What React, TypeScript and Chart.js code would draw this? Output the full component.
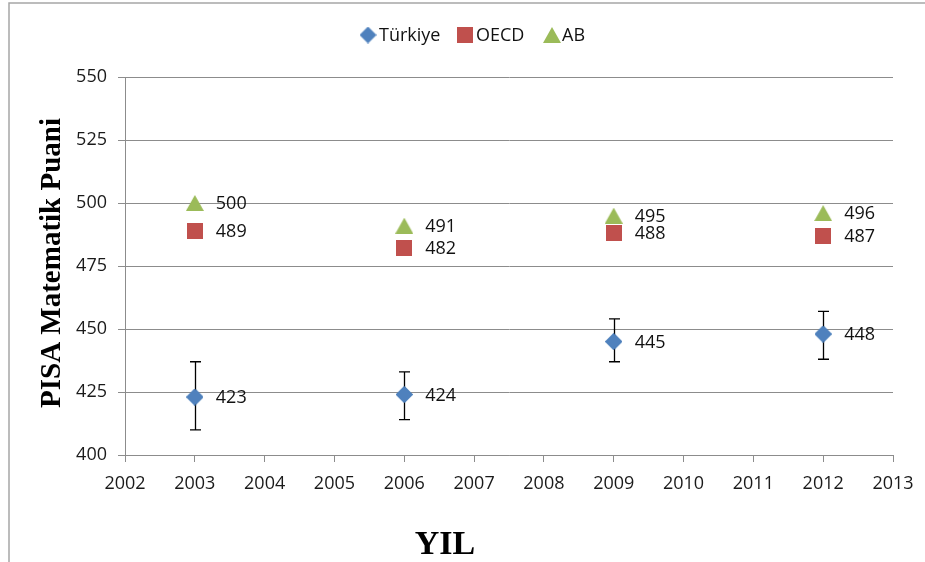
import React, { useEffect, useRef } from "react";
import { Chart, registerables } from "chart.js";

Chart.register(...registerables);

// ---- data ----
const years = [2003, 2006, 2009, 2012];
const turkiye = [423, 424, 445, 448];
const turkiyeLow = [410, 414, 437, 438];
const turkiyeHigh = [437, 433, 454, 457];
const oecd = [489, 482, 488, 487];
const ab = [500, 491, 495, 496];
const seriesNames = ["Türkiye", "OECD", "AB"];
const xMin = 2002;
const xMax = 2013;
const yMin = 400;
const yMax = 550;
const yStep = 25;
const yTitle = "PISA Matematik Puani";
const xTitle = "YIL";

const BLUE = "#4F81BD";
const RED = "#C0504D";
const GREEN = "#9BBB59";
const GRID = "#8c8c8c";
const FONT = '"Open Sans", "DejaVu Sans", sans-serif';

function makeMarker(kind: string, color: string): HTMLCanvasElement {
  const c = document.createElement("canvas");
  const ctx = c.getContext("2d")!;
  if (kind === "diamond") {
    c.width = 17; c.height = 17;
    ctx.fillStyle = color;
    ctx.beginPath();
    ctx.moveTo(8.5, 0); ctx.lineTo(17, 8.5); ctx.lineTo(8.5, 17); ctx.lineTo(0, 8.5);
    ctx.closePath(); ctx.fill();
  } else if (kind === "square") {
    c.width = 16; c.height = 16;
    ctx.fillStyle = color;
    ctx.fillRect(0, 0, 16, 16);
  } else {
    c.width = 18; c.height = 16;
    ctx.fillStyle = color;
    ctx.beginPath();
    ctx.moveTo(9, 0); ctx.lineTo(18, 16); ctx.lineTo(0, 16);
    ctx.closePath(); ctx.fill();
  }
  return c;
}

export default function App() {
  const ref = useRef<HTMLCanvasElement>(null);

  useEffect(() => {
    let chart: Chart | null = null;
    let cancelled = false;
    const markers = [
      makeMarker("diamond", BLUE),
      makeMarker("square", RED),
      makeMarker("triangle", GREEN),
    ];

    const overlay = {
      id: "overlay",
      beforeDraw(c: any) {
        const ctx = c.ctx;
        ctx.save();
        ctx.fillStyle = "#fff";
        ctx.fillRect(0, 0, c.width, c.height);
        // outer border
        ctx.strokeStyle = "#a6a6a6";
        ctx.lineWidth = 1.5;
        ctx.beginPath();
        ctx.moveTo(9, 562);
        ctx.lineTo(9, 3);
        ctx.lineTo(925, 3);
        ctx.stroke();
        ctx.restore();
      },
      afterDatasetsDraw(c: any) {
        const ctx = c.ctx;
        const xs = c.scales.x;
        const ys = c.scales.y;
        ctx.save();
        // error bars
        ctx.strokeStyle = "#000";
        ctx.lineWidth = 1.3;
        years.forEach((yr, i) => {
          const px = Math.round(xs.getPixelForValue(yr)) + 0.5;
          const top = ys.getPixelForValue(turkiyeHigh[i]);
          const bot = ys.getPixelForValue(turkiyeLow[i]);
          ctx.beginPath();
          ctx.moveTo(px, top); ctx.lineTo(px, bot);
          ctx.moveTo(px - 5.5, top); ctx.lineTo(px + 5.5, top);
          ctx.moveTo(px - 5.5, bot); ctx.lineTo(px + 5.5, bot);
          ctx.stroke();
        });
        // redraw diamonds on top of error bars
        years.forEach((yr, i) => {
          const m = markers[0];
          const px = xs.getPixelForValue(yr);
          const py = ys.getPixelForValue(turkiye[i]);
          ctx.drawImage(m, px - m.width / 2, py - m.height / 2);
        });
        // data labels
        ctx.fillStyle = "#111";
        ctx.font = "18px " + FONT;
        ctx.textAlign = "left";
        ctx.textBaseline = "middle";
        [turkiye, oecd, ab].forEach((arr) => {
          arr.forEach((v, i) => {
            const px = xs.getPixelForValue(years[i]);
            const py = ys.getPixelForValue(v);
            ctx.fillText(String(v), px + 21, py + 1);
          });
        });
        // legend
        const legendY = 35;
        const items = [
          { m: markers[0], mx: 368, tx: 379 },
          { m: markers[1], mx: 465, tx: 476 },
          { m: markers[2], mx: 552, tx: 562 },
        ];
        items.forEach((it, i) => {
          ctx.drawImage(it.m, it.mx - it.m.width / 2, legendY - it.m.height / 2);
          ctx.fillStyle = "#111";
          ctx.fillText(seriesNames[i], it.tx, legendY + 1);
        });
        // axis titles
        ctx.fillStyle = "#000";
        ctx.font = 'bold 29px "Liberation Serif", "DejaVu Serif", serif';
        ctx.textAlign = "center";
        ctx.textBaseline = "middle";
        ctx.save();
        ctx.translate(53, 263);
        ctx.rotate(-Math.PI / 2);
        ctx.fillText(yTitle, 0, 0);
        ctx.restore();
        ctx.font = 'bold 34px "Liberation Serif", "DejaVu Serif", serif';
        ctx.fillText(xTitle, 445, 545);
        ctx.restore();
      },
    };

    const build = () => {
      if (cancelled || !ref.current) return;
      chart = new Chart(ref.current, {
        type: "scatter",
        data: {
          datasets: [
            {
              label: seriesNames[2],
              data: years.map((x, i) => ({ x, y: ab[i] })),
              pointStyle: markers[2] as any,
              backgroundColor: GREEN,
              borderColor: GREEN,
            },
            {
              label: seriesNames[1],
              data: years.map((x, i) => ({ x, y: oecd[i] })),
              pointStyle: markers[1] as any,
              backgroundColor: RED,
              borderColor: RED,
            },
            {
              label: seriesNames[0],
              data: years.map((x, i) => ({ x, y: turkiye[i] })),
              pointStyle: markers[0] as any,
              backgroundColor: BLUE,
              borderColor: BLUE,
            },
          ],
        },
        options: {
          animation: false,
          responsive: false,
          devicePixelRatio: 1,
          layout: { padding: { top: 77, right: 32, left: 0, bottom: 0 } },
          plugins: {
            legend: { display: false },
            tooltip: { enabled: false },
          },
          scales: {
            x: {
              type: "linear",
              min: xMin,
              max: xMax,
              afterFit: (s: any) => { s.height = 107; },
              ticks: {
                stepSize: 1,
                callback: (v: any) => String(v),
                font: { family: FONT, size: 18 },
                color: "#1a1a1a",
                padding: 11,
                maxRotation: 0,
              },
              grid: {
                drawOnChartArea: false,
                drawTicks: true,
                tickLength: 7,
                color: GRID,
              },
              border: { color: GRID },
            },
            y: {
              min: yMin,
              max: yMax,
              afterFit: (s: any) => { s.width = 125; },
              ticks: {
                stepSize: yStep,
                font: { family: FONT, size: 18 },
                color: "#1a1a1a",
                padding: 11,
              },
              grid: {
                color: GRID,
                tickLength: 7,
              },
              border: { color: GRID },
            },
          },
        },
        plugins: [overlay],
      });
    };

    const fontsReady = (document as any).fonts
      ? Promise.all([
          (document as any).fonts.load('18px "Open Sans"'),
          (document as any).fonts.load('bold 28px "Liberation Serif"'),
        ]).catch(() => null)
      : Promise.resolve(null);
    fontsReady.then(build);

    return () => {
      cancelled = true;
      if (chart) chart.destroy();
    };
  }, []);

  return (
    <div style={{ position: "fixed", left: 0, top: 0, width: 925, height: 562 }}>
      <canvas ref={ref} width={925} height={562} style={{ width: 925, height: 562, display: "block" }} />
    </div>
  );
}
